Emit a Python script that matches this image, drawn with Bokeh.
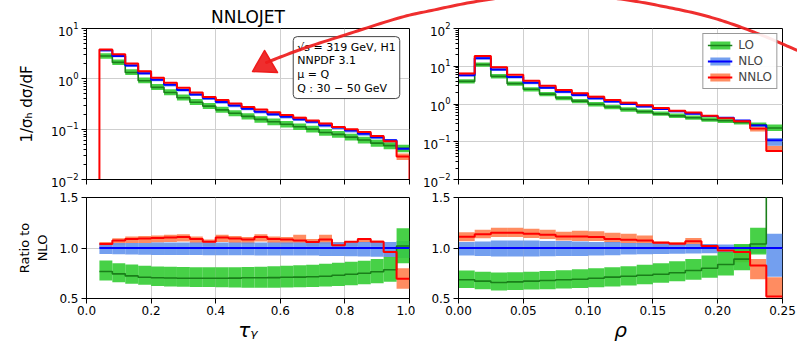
import numpy as np
from bokeh.plotting import figure
from bokeh.layouts import column, row
from bokeh.models import (Range1d, FixedTicker, PrintfTickFormatter, CustomJSTickFormatter,
                          Label, Legend, LegendItem)
from bokeh.embed import file_html
from bokeh.resources import INLINE

# ---------------- data: tau_gamma ----------------
tau_edges = [0.04, 0.08, 0.12, 0.16, 0.20, 0.24, 0.28, 0.32, 0.36, 0.40, 0.44, 0.48, 0.52,
             0.56, 0.60, 0.64, 0.68, 0.72, 0.76, 0.80, 0.84, 0.88, 0.92, 0.96, 1.00]
tau_nlo = [3.7, 2.85, 1.85, 1.29, 0.96, 0.76, 0.60, 0.49, 0.41, 0.345, 0.295, 0.255, 0.222,
           0.198, 0.176, 0.157, 0.14, 0.119, 0.108, 0.094, 0.081, 0.069, 0.060, 0.041]
tau_r_lo = [0.767, 0.744, 0.724, 0.711, 0.705, 0.703, 0.70, 0.70, 0.70, 0.70, 0.702, 0.705,
            0.705, 0.707, 0.71, 0.712, 0.715, 0.72, 0.73, 0.74, 0.75, 0.765, 0.785, 1.02]
tau_r_lo_hi = [0.876, 0.85, 0.837, 0.825, 0.818, 0.815, 0.812, 0.81, 0.81, 0.81, 0.81, 0.812,
               0.815, 0.82, 0.825, 0.83, 0.835, 0.845, 0.855, 0.865, 0.875, 0.89, 0.91, 1.195]
tau_r_lo_lo = [0.678, 0.66, 0.645, 0.635, 0.625, 0.62, 0.617, 0.615, 0.613, 0.612, 0.61, 0.607,
               0.607, 0.607, 0.61, 0.612, 0.615, 0.62, 0.625, 0.632, 0.64, 0.65, 0.665, 0.85]
tau_r_nlo_hi = [1.05, 1.05, 1.05, 1.05, 1.055, 1.055, 1.055, 1.055, 1.055, 1.055, 1.055, 1.055,
                1.055, 1.055, 1.055, 1.055, 1.055, 1.058, 1.058, 1.058, 1.06, 1.06, 1.06, 1.07]
tau_r_nlo_lo = [0.94, 0.937, 0.935, 0.932, 0.93, 0.93, 0.93, 0.93, 0.928, 0.928, 0.928, 0.928,
                0.926, 0.926, 0.926, 0.925, 0.925, 0.922, 0.92, 0.918, 0.915, 0.913, 0.91, 0.90]
tau_r_nnlo = [1.04, 1.075, 1.088, 1.093, 1.10, 1.105, 1.11, 1.09, 1.062, 1.105, 1.095, 1.085,
              1.11, 1.09, 1.085, 1.075, 1.06, 1.085, 1.028, 1.062, 1.09, 1.062, 0.96, 0.695]
tau_r_nnlo_hi = [1.06, 1.097, 1.114, 1.12, 1.125, 1.13, 1.135, 1.115, 1.085, 1.13, 1.12, 1.11,
                 1.135, 1.115, 1.11, 1.13, 1.09, 1.13, 1.06, 1.07, 1.10, 1.075, 0.98, 0.80]
tau_r_nnlo_lo = [1.0, 1.03, 1.048, 1.05, 1.055, 1.06, 1.065, 1.045, 1.02, 1.06, 1.05, 1.04,
                 1.065, 1.05, 1.04, 1.048, 1.02, 1.04, 0.99, 1.02, 1.05, 1.02, 0.909, 0.596]

# ---------------- data: rho ----------------
rho_edges = [0.0, 0.0125, 0.025, 0.0375, 0.05, 0.0625, 0.075, 0.0875, 0.10, 0.1125, 0.125,
             0.1375, 0.15, 0.1625, 0.175, 0.1875, 0.20, 0.2125, 0.225, 0.2375, 0.25]
rho_nlo = [5.8, 16.4, 8.2, 5.2, 3.65, 2.7, 2.1, 1.72, 1.41, 1.17, 1.0, 0.86, 0.74, 0.64,
           0.555, 0.48, 0.43, 0.365, 0.27, 0.11]
rho_r_lo = [0.685, 0.672, 0.658, 0.665, 0.672, 0.678, 0.685, 0.691, 0.70, 0.712, 0.72, 0.73,
            0.74, 0.755, 0.777, 0.80, 0.836, 0.89, 1.04, 2.1]
rho_r_lo_hi = [0.777, 0.765, 0.758, 0.76, 0.765, 0.772, 0.78, 0.79, 0.80, 0.81, 0.82, 0.835,
               0.85, 0.87, 0.89, 0.926, 0.96, 1.04, 1.2, 2.6]
rho_r_lo_lo = [0.605, 0.592, 0.579, 0.583, 0.588, 0.592, 0.598, 0.605, 0.612, 0.62, 0.628, 0.64,
               0.655, 0.67, 0.685, 0.705, 0.728, 0.78, 0.936, 1.75]
rho_r_nlo_hi = [1.06, 1.065, 1.075, 1.075, 1.075, 1.07, 1.07, 1.065, 1.06, 1.06, 1.05, 1.05,
                1.045, 1.045, 1.04, 1.04, 1.035, 1.03, 1.04, 1.14]
rho_r_nlo_lo = [0.925, 0.92, 0.915, 0.915, 0.915, 0.918, 0.92, 0.922, 0.925, 0.928, 0.935, 0.937,
                0.94, 0.942, 0.945, 0.948, 0.95, 0.955, 0.95, 0.715]
rho_r_nnlo = [1.112, 1.135, 1.152, 1.152, 1.14, 1.13, 1.113, 1.113, 1.11, 1.09, 1.081, 1.074,
              1.052, 1.041, 1.068, 1.021, 0.975, 0.96, 0.826, 0.52]
rho_r_nnlo_hi = [1.155, 1.18, 1.2, 1.2, 1.19, 1.18, 1.16, 1.17, 1.165, 1.15, 1.14, 1.125,
                 1.068, 1.06, 1.10, 1.04, 1.005, 0.975, 0.89, 0.71]
rho_r_nnlo_lo = [1.068, 1.096, 1.11, 1.11, 1.1, 1.09, 1.075, 1.07, 1.07, 1.05, 1.045, 1.035,
                 1.008, 1.02, 1.025, 1.0, 0.95, 0.86, 0.69, 0.51]

tau_ticks = [0.0, 0.2, 0.4, 0.6, 0.8, 1.0]
rho_ticks = [0.0, 0.05, 0.10, 0.15, 0.20, 0.25]
ratio_ticks = [0.5, 1.0, 1.5]

FONT = "DejaVu Sans"
C_LO, C_LO_LINE = "#33cc33", "#1a7f1a"
C_NLO, C_NLO_LINE = "#6495ed", "#0000ff"
C_NNLO, C_NNLO_LINE = "#ff7f50", "#ff0000"
BAND_ALPHA = 0.9
ARROW_RED = "#ee1c1c"

LEFT_W, RIGHT_W = 415, 382
TOP_H, BOT_H = 188, 156


def step_xy(edges, vals, floor=None):
    xs, ys = [], []
    if floor is not None:
        xs.append(edges[0]); ys.append(floor)
    for i, v in enumerate(vals):
        xs += [edges[i], edges[i + 1]]
        ys += [v, v]
    if floor is not None:
        xs.append(edges[-1]); ys.append(floor)
    return xs, ys


def style(p, log=False):
    p.background_fill_color = "white"
    p.border_fill_color = "white"
    p.outline_line_color = "black"
    p.outline_line_width = 1
    for ax in p.axis:
        ax.axis_line_color = "black"
        ax.major_tick_line_color = "black"
        ax.minor_tick_line_color = "black"
        ax.major_tick_out = 5
        ax.major_tick_in = 0
        ax.minor_tick_out = 3 if log else 0
        ax.minor_tick_in = 0
        ax.major_label_text_font = FONT
        ax.major_label_text_font_size = "12px"
        ax.major_label_text_color = "black"
        ax.major_label_standoff = 3
        ax.axis_label_text_font = FONT
        ax.axis_label_text_font_style = "normal"
        ax.axis_label_text_color = "black"
    p.grid.grid_line_color = "#cfcfcf"
    p.grid.grid_line_width = 1


def make_top(edges, nlo, r_lo, r_lo_hi, r_lo_lo, r_nlo_hi, r_nlo_lo, r_nnlo, r_nnlo_hi, r_nnlo_lo,
             xr, yr, xticks, width, bl, br, floor_line):
    p = figure(width=width, height=TOP_H, x_axis_type="linear", y_axis_type="log",
               x_range=Range1d(*xr), y_range=Range1d(*yr), output_backend="svg",
               toolbar_location=None, min_border_left=bl, min_border_right=br,
               min_border_top=28, min_border_bottom=9)
    nlo = np.array(nlo)
    lefts, rights = edges[:-1], edges[1:]
    b_nnlo = p.quad(left=lefts, right=rights, bottom=nlo * np.array(r_nnlo_lo),
                    top=nlo * np.array(r_nnlo_hi), fill_color=C_NNLO, fill_alpha=BAND_ALPHA, line_color=None)
    b_nlo = p.quad(left=lefts, right=rights, bottom=nlo * np.array(r_nlo_lo),
                   top=nlo * np.array(r_nlo_hi), fill_color=C_NLO, fill_alpha=BAND_ALPHA, line_color=None)
    b_lo = p.quad(left=lefts, right=rights, bottom=nlo * np.array(r_lo_lo),
                  top=nlo * np.array(r_lo_hi), fill_color=C_LO, fill_alpha=BAND_ALPHA, line_color=None)
    x, y = step_xy(edges, nlo * np.array(r_lo))
    l_lo = p.line(x, y, line_color=C_LO_LINE, line_width=1.6)
    x, y = step_xy(edges, nlo)
    l_nlo = p.line(x, y, line_color=C_NLO_LINE, line_width=2)
    x, y = step_xy(edges, nlo * np.array(r_nnlo), 1e-6 if floor_line else None)
    l_nnlo = p.line(x, y, line_color=C_NNLO_LINE, line_width=2)
    p.xaxis.ticker = FixedTicker(ticks=xticks)
    style(p, log=True)
    p.xaxis.formatter = CustomJSTickFormatter(code="return ''")
    p.xaxis.major_label_text_font_size = "1px"
    p.xaxis.major_label_standoff = 0
    return p, (b_lo, l_lo), (b_nlo, l_nlo), (b_nnlo, l_nnlo)


def make_ratio(edges, r_lo, r_lo_hi, r_lo_lo, r_nlo_hi, r_nlo_lo, r_nnlo, r_nnlo_hi, r_nnlo_lo,
               xr, xticks, fmt, width, bl, br, xlabel):
    p = figure(width=width, height=BOT_H, x_range=Range1d(*xr), y_range=Range1d(0.5, 1.5),
               output_backend="svg", toolbar_location=None, min_border_left=bl, min_border_right=br,
               min_border_top=9, min_border_bottom=46)
    lefts, rights = edges[:-1], edges[1:]
    p.quad(left=lefts, right=rights, bottom=r_nnlo_lo, top=r_nnlo_hi, fill_color=C_NNLO,
           fill_alpha=BAND_ALPHA, line_color=None)
    p.quad(left=lefts, right=rights, bottom=r_nlo_lo, top=r_nlo_hi, fill_color=C_NLO,
           fill_alpha=BAND_ALPHA, line_color=None)
    p.quad(left=lefts, right=rights, bottom=r_lo_lo, top=r_lo_hi, fill_color=C_LO,
           fill_alpha=BAND_ALPHA, line_color=None)
    x, y = step_xy(edges, r_lo)
    p.line(x, y, line_color=C_LO_LINE, line_width=1.6)
    p.line([edges[0], edges[-1]], [1.0, 1.0], line_color=C_NLO_LINE, line_width=2)
    x, y = step_xy(edges, r_nnlo)
    p.line(x, y, line_color=C_NNLO_LINE, line_width=2)
    p.xaxis.ticker = FixedTicker(ticks=xticks)
    p.yaxis.ticker = FixedTicker(ticks=ratio_ticks)
    p.xaxis.formatter = PrintfTickFormatter(format=fmt)
    p.yaxis.formatter = PrintfTickFormatter(format="%.1f")
    style(p)
    p.xaxis.major_label_standoff = 2
    p.xaxis.axis_label = xlabel
    p.xaxis.axis_label_text_font_size = "20px"
    p.xaxis.axis_label_text_font_style = "italic"
    p.xaxis.axis_label_standoff = 0
    return p


# ---------------- top panels ----------------
p1, lo1, nlo1, nnlo1 = make_top(tau_edges, tau_nlo, tau_r_lo, tau_r_lo_hi, tau_r_lo_lo,
                                tau_r_nlo_hi, tau_r_nlo_lo, tau_r_nnlo, tau_r_nnlo_hi, tau_r_nnlo_lo,
                                (0.0, 1.0), (1e-2, 1e1), tau_ticks, LEFT_W, 86, 6, True)
p2, lo2, nlo2, nnlo2 = make_top(rho_edges, rho_nlo, rho_r_lo, rho_r_lo_hi, rho_r_lo_lo,
                                rho_r_nlo_hi, rho_r_nlo_lo, rho_r_nnlo, rho_r_nnlo_hi, rho_r_nnlo_lo,
                                (0.0, 0.25), (1e-2, 1e2), rho_ticks, RIGHT_W, 43, 15, False)

p1.title.text = "NNLOJET"
p1.title.align = "center"
p1.title.text_font = FONT
p1.title.text_font_size = "17px"
p1.title.text_font_style = "normal"
p1.title.text_color = "black"
p1.title.standoff = 4
p1.yaxis.axis_label = "1/σ\u2095 dσ/dF"
p1.yaxis.axis_label_text_font_size = "15px"
p1.yaxis.axis_label_standoff = 12

legend = Legend(items=[LegendItem(label="LO", renderers=list(lo2)),
                       LegendItem(label="NLO", renderers=list(nlo2)),
                       LegendItem(label="NNLO", renderers=list(nnlo2))],
                location="top_right", label_text_font=FONT, label_text_font_size="12px",
                glyph_width=25, glyph_height=10, label_standoff=6, padding=4, spacing=2,
                margin=5, border_line_color="#333333", border_line_width=1,
                background_fill_alpha=0.9, label_height=12, label_text_line_height=1.0)
p2.add_layout(legend)

info = Label(x=0.64, y=6.9, text="√s = 319 GeV, H1\nNNPDF 3.1\nμ = Q\nQ : 30 − 50 GeV",
             text_align="left", text_baseline="top", text_font=FONT, text_font_size="11px",
             text_line_height=1.05,
             text_color="black", background_fill_color="white", border_line_color="#444444",
             border_line_width=1, padding=4, border_radius=4)
p1.add_layout(info)

# ---------------- hand-drawn red arrow (annotation path, page pixels) ----------------
ARROW_PATH = [(797, 50), (767, 37), (733, 24), (700, 14), (663, 6), (630, 0), (590, -5),
              (550, -7), (510, -4), (470, 2), (431, 10), (400, 17), (349, 33), (300, 49),
              (266, 62)]
A_HEAD = [(252.0, 71.0), (264.0, 50.0), (277.0, 72.0)]


def catmull_rom(points, n=12):
    pts = np.array(points, dtype=float)
    ext = np.vstack([pts[0], pts, pts[-1]])
    out = []
    for i in range(1, len(ext) - 2):
        p0, p1, p2, p3 = ext[i - 1], ext[i], ext[i + 1], ext[i + 2]
        for s in np.linspace(0, 1, n, endpoint=False):
            out.append(0.5 * ((2 * p1) + (-p0 + p2) * s + (2 * p0 - 5 * p1 + 4 * p2 - p3) * s ** 2
                              + (-p0 + 3 * p1 - 3 * p2 + p3) * s ** 3))
    out.append(pts[-1])
    return np.array(out)


curve = catmull_rom(ARROW_PATH)


def to_left(px, py):
    return (np.asarray(px) - 86) / 323.0, 10 ** (1 - (np.asarray(py) - 28) * 3 / 151.0)


def to_right(px, py):
    return (np.asarray(px) - 458) / 324.0 * 0.25, 10 ** (2 - (np.asarray(py) - 28) * 4 / 151.0)


head = np.array(A_HEAD)
for fig, conv in ((p1, to_left), (p2, to_right)):
    xs, ys = conv(curve[:, 0], curve[:, 1])
    fig.line(list(xs), list(ys), line_color=ARROW_RED, line_width=3.0, line_alpha=0.92,
             line_cap="round", line_join="round", level="overlay")
    hx, hy = conv(head[:, 0], head[:, 1])
    fig.patch(list(hx), list(hy), fill_color=ARROW_RED, fill_alpha=0.92,
              line_color=ARROW_RED, line_width=1.5, line_join="round", level="overlay")

# ---------------- ratio panels ----------------
p3 = make_ratio(tau_edges, tau_r_lo, tau_r_lo_hi, tau_r_lo_lo, tau_r_nlo_hi, tau_r_nlo_lo,
                tau_r_nnlo, tau_r_nnlo_hi, tau_r_nnlo_lo, (0.0, 1.0), tau_ticks, "%.1f",
                LEFT_W, 86, 6, "τ\u1d67")
p4 = make_ratio(rho_edges, rho_r_lo, rho_r_lo_hi, rho_r_lo_lo, rho_r_nlo_hi, rho_r_nlo_lo,
                rho_r_nnlo, rho_r_nnlo_hi, rho_r_nnlo_lo, (0.0, 0.25), rho_ticks, "%.2f",
                RIGHT_W, 43, 15, "ρ")
p3.yaxis.axis_label = "Ratio to\nNLO"
p3.yaxis.axis_label_text_font_size = "13px"
p3.yaxis.axis_label_standoff = 6

layout = column(row(p1, p2), row(p3, p4))
open("out.html", "w").write(file_html(layout, INLINE))
